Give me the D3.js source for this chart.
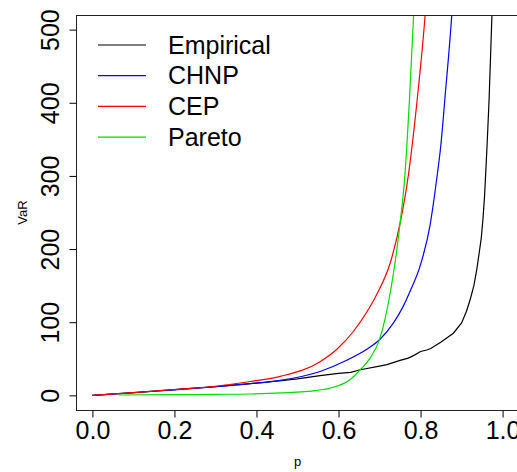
<!DOCTYPE html>
<html>
<head>
<meta charset="utf-8">
<script src="https://cdn.jsdelivr.net/npm/d3@7"></script>
<style>
  body { margin: 0; background: #fff; }
  svg { display: block; font-family: "Liberation Sans", Arial, sans-serif; }
</style>
</head>
<body>
<div class="chart"></div>
<script>
// values: [p, VaR]
var empirical = [[0,0],[0.1,3.8],[0.2,7.8],[0.3,12],[0.4,16.8],[0.46,20],[0.5,22.6],[0.555,27],[0.6,30],[0.63,31.5],[0.653,35],
  [0.7,40],[0.718,42],[0.75,47.8],[0.77,51],[0.785,55],[0.8,60],[0.815,62],[0.825,64],[0.85,73],[0.88,85],
  [0.9,99],[0.912,115],[0.921,131],[0.93,150],[0.937,172],[0.943,195],[0.948,215],[0.952,240],[0.956,272],
  [0.962,340],[0.967,403],[0.974,519],[0.98,620]];
var chnp = [[0,0],[0.1,3.6],[0.2,7.6],[0.3,11.8],[0.385,16],[0.458,20.5],[0.555,32.7],[0.62,48],[0.669,63],[0.7,76],
  [0.734,99],[0.758,122],[0.775,143],[0.799,177],[0.823,232],[0.838,290],[0.85,345],[0.86,410],[0.876,519],[0.885,600]];
var cep = [[0,0],[0.1,3.8],[0.2,8],[0.3,12.5],[0.385,19],[0.458,26],[0.555,46],[0.596,63],[0.637,88],[0.669,114],
  [0.694,139],[0.726,181],[0.75,235],[0.768,292],[0.791,400],[0.811,519],[0.82,590]];
var pareto = [[0.065,0.5],[0.2,1],[0.3,1.4],[0.385,1.9],[0.46,3.3],[0.547,6.8],[0.58,10],[0.628,21.4],[0.653,35],
  [0.677,51],[0.7,76.5],[0.714,106],[0.722,128],[0.734,167],[0.75,235],[0.761,295],[0.773,405],[0.783,519],[0.79,610]];

var seriesNames = ["Empirical", "CHNP", "CEP", "Pareto"];
var seriesColors = ["black", "blue", "red", "#00dd00"];
var xTicks = [0, 0.2, 0.4, 0.6, 0.8, 1.0];
var yTicks = [0, 100, 200, 300, 400, 500];

var width = 517, height = 472;
var pLeft = 76, pRight = 519, pTop = 15, pBottom = 410;

var svg = d3.select(".chart").append("svg")
  .attr("width", width)
  .attr("height", height);

// R style 4% extension of the ranges
var x = d3.scaleLinear().domain([-0.04, 1.04]).range([pLeft, pRight]);
var y = d3.scaleLinear().domain([-20, 520]).range([pBottom, pTop]);

svg.append("clipPath").attr("id", "plotclip")
  .append("rect")
  .attr("x", pLeft).attr("y", pTop)
  .attr("width", pRight - pLeft).attr("height", pBottom - pTop);

var line = d3.line()
  .x(function(d) { return x(d[0]); })
  .y(function(d) { return y(d[1]); });

var all = [empirical, chnp, cep, pareto];
var g = svg.append("g").attr("clip-path", "url(#plotclip)");
all.forEach(function(s, i) {
  g.append("path")
    .datum(s)
    .attr("fill", "none")
    .attr("stroke", seriesColors[i])
    .attr("stroke-width", 1.2)
    .attr("d", line.curve(i == 0 ? d3.curveLinear : d3.curveMonotoneX));
});

// box
svg.append("rect")
  .attr("x", pLeft + 0.5).attr("y", pTop + 0.5)
  .attr("width", pRight - pLeft).attr("height", pBottom - pTop)
  .attr("fill", "none")
  .attr("stroke", "#222")
  .attr("stroke-width", 1);

// axes
var xAxis = d3.axisBottom(x).tickValues(xTicks).tickFormat(d3.format(".1f")).tickSize(7).tickPadding(4);
var yAxis = d3.axisLeft(y).tickValues(yTicks).tickFormat(d3.format("d")).tickSize(7);

var gx = svg.append("g")
  .attr("transform", "translate(0," + (pBottom + 0.5) + ")")
  .call(xAxis);
gx.select(".domain").remove();
gx.selectAll("text").attr("font-size", 25).attr("fill", "black").attr("dy", null).attr("y", 28);

var gy = svg.append("g")
  .attr("transform", "translate(" + (pLeft + 0.5) + ",0)")
  .call(yAxis);
gy.select(".domain").remove();
gy.selectAll("text")
  .attr("font-size", 25).attr("fill", "black")
  .attr("x", null).attr("dy", null)
  .attr("text-anchor", "middle")
  .attr("transform", "translate(-18,0) rotate(-90)");

svg.append("text")
  .attr("x", (pLeft + pRight) / 2)
  .attr("y", 466)
  .attr("text-anchor", "middle")
  .attr("font-size", 13)
  .text("p");

svg.append("text")
  .attr("transform", "translate(27," + ((pTop + pBottom) / 2) + ") rotate(-90)")
  .attr("text-anchor", "middle")
  .attr("font-size", 13)
  .text("VaR");

// legend
var legend = svg.append("g");
seriesNames.forEach(function(name, i) {
  var ly = 45 + i * 30.7;
  legend.append("line")
    .attr("x1", 98).attr("x2", 146)
    .attr("y1", ly).attr("y2", ly)
    .attr("stroke", seriesColors[i])
    .attr("stroke-width", 1.2);
  legend.append("text")
    .attr("x", 168).attr("y", ly)
    .attr("dy", "0.35em")
    .attr("font-size", 25)
    .text(name);
});
</script>
</body>
</html>
